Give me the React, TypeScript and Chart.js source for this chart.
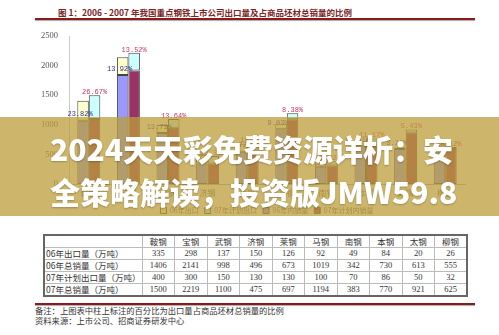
import React, { useEffect, useRef } from 'react';
import { Chart, registerables } from 'chart.js';

Chart.register(...registerables);

// ---------- data ----------
const companies = ['鞍钢', '宝钢', '武钢', '济钢', '莱钢', '马钢', '南钢', '本钢', '太钢', '柳钢'];
const export06 = [335, 298, 137, 150, 126, 92, 49, 84, 20, 26];
const total06 = [1406, 2141, 998, 496, 673, 1019, 342, 730, 613, 555];
const export07 = [400, 300, 150, 130, 130, 100, 70, 86, 50, 32];
const total07 = [1500, 2219, 1100, 475, 697, 1194, 383, 770, 921, 625];
const pct06 = ['23.82%', '13.92%', '13.73%', '30.24%', '18.72%', '9.03%', '14.33%', '11.51%', '3.26%', '4.68%'];
const pct07 = ['26.67%', '13.52%', '13.64%', '27.37%', '18.65%', '8.38%', '18.28%', '11.17%', '5.43%', '5.12%'];
const yTicks = [0, 500, 1000, 1500, 2000, 2500];
const legendOrder = ['06年出口', '07年计划出口', '06年内销量', '07年计划内销量'];
const rowLabels = ['06年出口量（万吨）', '06年总销量（万吨）', '07年计划出口量（万吨）', '07年总销量（万吨）'];
const rowValues = [export06, total06, export07, total07];
const titleText = '图 1：2006 - 2007 年我国重点钢铁上市公司出口量及占商品坯材总销量的比例';
const note1 = '备注：上图表中柱上标注的百分比为出口量占商品坯材总销量的比例';
const note2 = '资料来源：上市公司、招商证券研发中心';
const bannerLines = ['2024天天彩免费资源详析：安', '全策略解读，投资版JMW59.8'];

const dom06 = total06.map((t, i) => t - export06[i]);
const dom07 = total07.map((t, i) => t - export07[i]);

const pctLabels = {
  id: 'pctLabels',
  afterDatasetsDraw(chart: any) {
    const ctx = chart.ctx;
    const m06 = chart.getDatasetMeta(0);
    const m07 = chart.getDatasetMeta(3);
    ctx.save();
    ctx.font = '7px "Liberation Mono", monospace';
    ctx.textAlign = 'center';
    ctx.textBaseline = 'middle';
    m06.data.forEach((el: any, i: number) => {
      ctx.fillStyle = '#333399';
      ctx.fillText(pct06[i], el.x - 3, el.y - 6);
    });
    m07.data.forEach((el: any, i: number) => {
      ctx.fillStyle = '#CC3366';
      ctx.fillText(pct07[i], el.x, el.y - 3);
    });
    ctx.restore();
  },
};

const serif = '"Liberation Serif", "Noto Sans CJK SC", serif';
const cjk = '"Noto Sans CJK SC", "Liberation Serif", sans-serif';

export default function App() {
  const ref = useRef<HTMLCanvasElement | null>(null);

  useEffect(() => {
    if (!ref.current) return;
    const common = { borderColor: '#444', borderWidth: 1, borderSkipped: false as const };
    const chart = new Chart(ref.current, {
      type: 'bar',
      data: {
        labels: companies,
        datasets: [
          { label: '06年内销量', data: dom06, stack: '06', backgroundColor: '#9999FF', ...common },
          { label: '06年出口', data: export06, stack: '06', backgroundColor: '#FFFFCC', ...common },
          { label: '07年计划内销量', data: dom07, stack: '07', backgroundColor: '#993366', ...common },
          { label: '07年计划出口', data: export07, stack: '07', backgroundColor: '#CCFFFF', ...common },
        ],
      },
      options: {
        animation: false,
        responsive: false,
        maintainAspectRatio: false,
        datasets: { bar: { categoryPercentage: 0.58, barPercentage: 1 } },
        layout: { padding: { left: 0, right: 34, top: 13, bottom: 6 } },
        plugins: {
          tooltip: { enabled: false },
          legend: {
            position: 'bottom',
            fullSize: false,
            labels: {
              boxWidth: 6,
              boxHeight: 6,
              padding: 6,
              color: '#666',
              font: { size: 7, family: cjk },
              sort: (a: any, b: any) => legendOrder.indexOf(a.text) - legendOrder.indexOf(b.text),
            },
          },
        },
        scales: {
          x: {
            stacked: true,
            grid: { display: false, drawTicks: false },
            border: { color: '#aaa' },
            ticks: { color: '#666', font: { size: 8, family: cjk }, padding: 4, autoSkip: false, maxRotation: 0 },
            afterFit: (s: any) => { s.height = 17; },
          },
          y: {
            stacked: true,
            min: 0,
            max: 2500,
            afterBuildTicks: (s: any) => { s.ticks = yTicks.map((v) => ({ value: v })); },
            grid: { display: false, drawTicks: false },
            border: { color: '#ccc' },
            ticks: { color: '#555', font: { size: 8.5, family: serif }, padding: 11, callback: (v: any) => String(v) },
            afterFit: (s: any) => { s.width = 69; },
          },
        },
      },
      plugins: [pctLabels],
    });
    return () => chart.destroy();
  }, []);

  const cell: React.CSSProperties = {
    border: '1px solid #bbb',
    padding: 0,
    height: 11,
    lineHeight: '11px',
    textAlign: 'center',
    overflow: 'hidden',
    whiteSpace: 'nowrap',
  };

  return (
    <div style={{ position: 'absolute', left: 0, top: 0, width: 499, height: 335, background: '#fff', overflow: 'hidden', fontFamily: serif }}>
      <div style={{ position: 'absolute', left: 58, top: 5, fontSize: 8.5, fontWeight: 700, color: '#7B2525', fontFamily: cjk, whiteSpace: 'nowrap', lineHeight: '14px' }}>
        {titleText}
      </div>
      <div style={{ position: 'absolute', left: 35, top: 18, width: 440, height: 1.5, background: '#8B1A1A', boxShadow: '0 1px 1px #aaa' }} />

      <canvas ref={ref} width={499} height={210} style={{ position: 'absolute', left: 0, top: 20, width: 499, height: 210 }} />

      <table style={{ position: 'absolute', left: 43, top: 234, width: 425, borderCollapse: 'collapse', tableLayout: 'fixed', border: '2px solid #666', fontSize: 8.5, color: '#333', fontFamily: serif }}>
        <colgroup>
          <col style={{ width: 98 }} />
          {companies.map((c) => <col key={c} />)}
        </colgroup>
        <tbody>
          <tr>
            <td style={cell}></td>
            {companies.map((c) => <td key={c} style={{ ...cell, fontFamily: cjk }}>{c}</td>)}
          </tr>
          {rowLabels.map((lab, r) => (
            <tr key={lab}>
              <td style={{ ...cell, textAlign: 'left', paddingLeft: 1, fontFamily: cjk }}>{lab}</td>
              {rowValues[r].map((v, i) => <td key={i} style={cell}>{v}</td>)}
            </tr>
          ))}
        </tbody>
      </table>

      <div style={{ position: 'absolute', left: 35, top: 303, width: 440, height: 1.5, background: '#8B1A1A', boxShadow: '0 1px 1px #aaa' }} />
      <div style={{ position: 'absolute', left: 35, top: 305, fontSize: 8.3, color: '#333', fontFamily: cjk, whiteSpace: 'nowrap', lineHeight: '10px' }}>
        <div>{note1}</div>
        <div>{note2}</div>
      </div>

      <div style={{ position: 'absolute', left: 0, top: 117, width: 499, height: 99, background: 'rgba(188,158,58,0.75)' }}>
        <div style={{ position: 'absolute', left: 50, top: 10, fontFamily: '"Noto Sans CJK SC", sans-serif', fontWeight: 900, fontSize: 30, lineHeight: '43px', color: '#fff', whiteSpace: 'nowrap', textShadow: '0 1px 2px rgba(0,0,0,0.25)' }}>
          {bannerLines.map((l) => <div key={l}>{l}</div>)}
        </div>
      </div>
    </div>
  );
}
